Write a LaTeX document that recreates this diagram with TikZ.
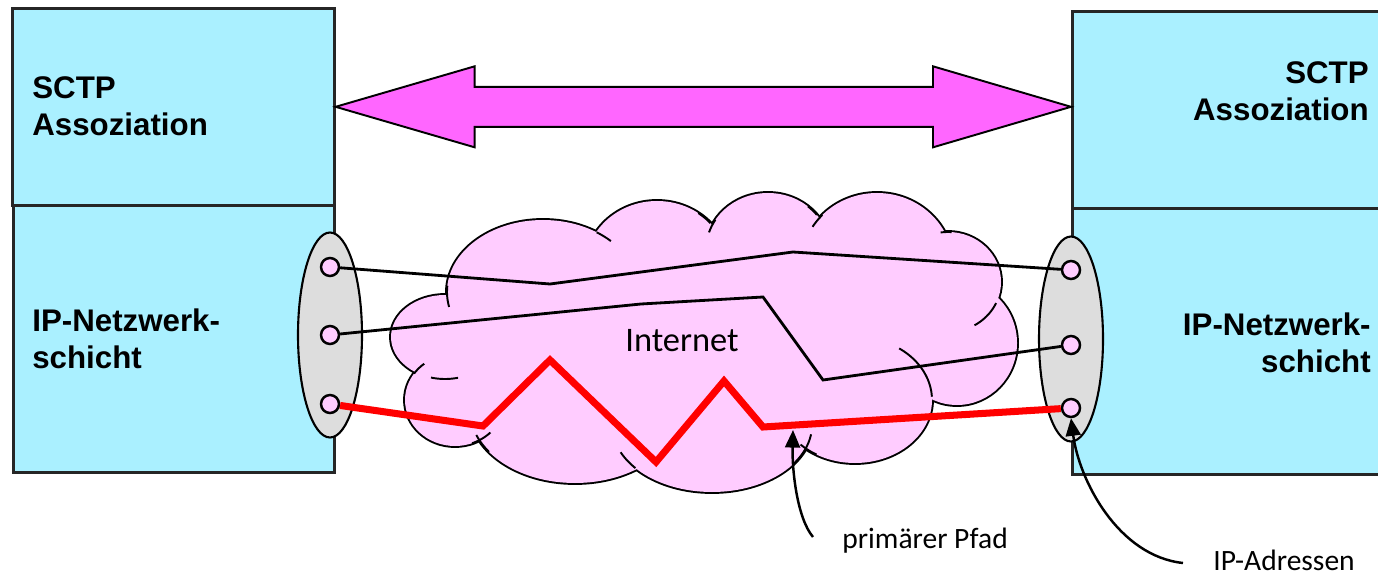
\documentclass[tikz,border=0pt]{standalone}
\usepackage{fontspec}
\setmainfont{Liberation Sans}
\newfontfamily\labelfont{Carlito}
\usetikzlibrary{shapes.geometric,arrows.meta,calc}
\definecolor{boxcyan}{RGB}{170,240,255}
\definecolor{arrowmag}{RGB}{255,102,255}
\definecolor{cloudpink}{RGB}{255,204,255}
\definecolor{ovalgray}{RGB}{221,221,221}
\def\px{0.02cm}
\newcommand\cloudstub[6]{\draw[cloudline] plot[domain=#5:#6,samples=14,smooth] ({#1+#3*cos(\x)},{#2+#4*sin(\x)});}
\begin{document}
\begin{tikzpicture}[x=0.02cm,y=-0.02cm,
  layerbox/.style={draw=black!85, line width=1.5pt, fill=boxcyan, inner sep=0},
  boldlabel/.style={font=\fontsize{17.8}{21.5}\selectfont\bfseries, inner sep=0},
  smalllabel/.style={font=\labelfont\fontsize{16.8}{20}\selectfont, inner sep=0},
  addroval/.style={ellipse, draw, line width=1.2pt, fill=ovalgray, inner sep=0,
    minimum width=64*\px, minimum height=205*\px},
  addrdot/.style={circle, draw, line width=1.4pt, fill=cloudpink, inner sep=0, minimum size=18*\px},
  cloudline/.style={line width=1.1pt},
  blackpath/.style={line width=1.6pt},
  redpath/.style={line width=4pt, red},
  callout/.style={-{Triangle[length=10pt,width=8.5pt]}, line width=1.4pt},
  bigarrow/.style={draw, line width=1.1pt, fill=arrowmag}]
\useasboundingbox (0,0) rectangle (1378,577);

% layer boxes
\node[layerbox, anchor=north west, minimum width=322*\px, minimum height=197*\px] (lsctp) at (11,7) {};
\node[layerbox, anchor=north west, minimum width=321*\px, minimum height=267*\px] (lip) at (12,204) {};
\node[layerbox, anchor=north west, minimum width=320*\px, minimum height=197*\px] (rsctp) at (1071,10) {};
\node[layerbox, anchor=north west, minimum width=320*\px, minimum height=266*\px] (rip) at (1071,207) {};

\node[boldlabel, anchor=north west, align=left] (lsctptext) at (32,76) {SCTP\\Assoziation};
\node[boldlabel, anchor=north west, align=left] (liptext) at (32,308) {IP-Netzwerk-\\schicht};
\node[boldlabel, anchor=north east, align=right] (rsctptext) at (1369,61) {SCTP\\Assoziation};
\node[boldlabel, anchor=north east, align=right] (riptext) at (1371,312) {IP-Netzwerk-\\schicht};

% double arrow
\coordinate (tipL) at (lsctp.east);
\coordinate (tipR) at (rsctp.west |- lsctp.east);
\draw[bigarrow] (tipL) -- ($(tipL)+(139,-40.5)$) -- ($(tipL)+(139,-20)$)
  -- ($(tipR)+(-138,-20)$) -- ($(tipR)+(-138,-40.5)$) -- (tipR)
  -- ($(tipR)+(-138,40.5)$) -- ($(tipR)+(-138,20)$) -- ($(tipL)+(139,20)$)
  -- ($(tipL)+(139,40.5)$) -- cycle;

% cloud
\def\puffs{543/292/96/72, 657/268/72/67, 768/250/62/57, 877/265/76/72, 948/282/53/50, 957/343/60/62, 855/400/77/63, 712/425/100/67, 575/410/105/73, 455/400/50/46, 445/337/54/42}
\foreach \cx/\cy/\rx/\ry in \puffs
  \draw[line width=2.2pt] (\cx,\cy) ellipse [x radius=\rx, y radius=\ry];
\fill[cloudpink] (700,340) ellipse [x radius=260, y radius=110];
\foreach \cx/\cy/\rx/\ry in \puffs
  \fill[cloudpink] (\cx,\cy) ellipse [x radius=\rx, y radius=\ry];
\cloudstub{543}{292}{96}{72}{-56}{-45}
\cloudstub{657}{268}{72}{67}{-55}{-42}
\cloudstub{768}{250}{62}{57}{198}{212}
\cloudstub{768}{250}{62}{57}{-50}{-38}
\cloudstub{877}{265}{76}{72}{212}{224}
\cloudstub{948}{282}{53}{50}{262}{274}
\cloudstub{948}{282}{53}{50}{25}{60}
\cloudstub{855}{400}{77}{63}{-55}{-3}
\cloudstub{855}{400}{77}{63}{120}{135}
\cloudstub{712}{425}{100}{67}{8}{35}
\cloudstub{712}{425}{100}{67}{140}{156}
\cloudstub{575}{410}{105}{73}{145}{160}
\cloudstub{455}{400}{50}{46}{45}{70}
\cloudstub{445}{337}{54}{42}{76}{105}
\cloudstub{455}{400}{50}{46}{215}{232}
\cloudstub{543}{292}{96}{72}{168}{185}
\node[font=\labelfont\fontsize{19.6}{22}\selectfont, inner sep=0] (internet) at (682,341) {Internet};

% address ovals and addresses
\node[addroval] (lov) at (330,335) {};
\node[addroval] (rov) at (1071,339) {};
\node[addrdot] (l1) at (330,267) {};
\node[addrdot] (l2) at (330,335) {};
\node[addrdot] (l3) at (330,404) {};
\node[addrdot] (r1) at (1071,270) {};
\node[addrdot] (r2) at (1071,345) {};
\node[addrdot] (r3) at (1071,408) {};

% paths
\draw[blackpath] (l1) -- (550,284) -- (793,252) -- (r1);
\draw[blackpath] (l2) -- (641,304) -- (763,297) -- (823,380) -- (r2);
\draw[redpath] (l3) -- (483,426) -- (550,360) -- (656,462) -- (724,381) -- (763,427) -- (r3);

% callouts
\node[smalllabel, anchor=base west] (pp) at (842,548) {primärer Pfad};
\node[smalllabel, anchor=base west] (ipa) at (1213,570) {IP-Adressen};
\coordinate (ppstart) at (813,537);
\coordinate (pptip) at (793,430);
\coordinate (ipastart) at (1183,563);
\draw[callout] (ppstart) .. controls (797,518) and (792,470) .. (pptip);
\draw[callout] (ipastart) .. controls (1118,556) and (1079,480) .. (r3.south);
\end{tikzpicture}
\end{document}
